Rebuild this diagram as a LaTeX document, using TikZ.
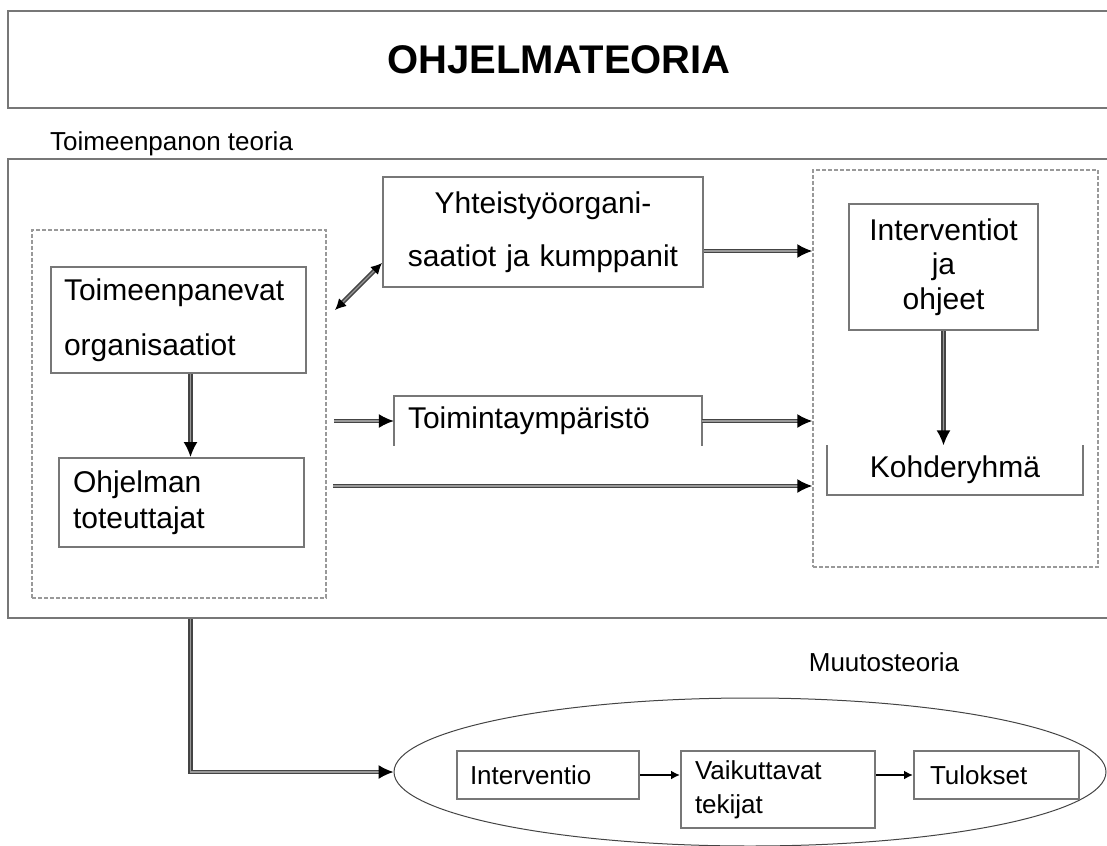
\documentclass[tikz,border=0pt]{standalone}
\usepackage{fontspec}
\setmainfont{Liberation Sans}
\usetikzlibrary{shapes.geometric,arrows.meta,positioning,calc}

\definecolor{boxgray}{HTML}{777777}
\definecolor{dashgray}{HTML}{999999}
\definecolor{linegray}{HTML}{444444}
\definecolor{midgray}{HTML}{999999}

\begin{document}
\begin{tikzpicture}[x=1pt, y=-1pt,
			box/.style={rectangle, draw=boxgray, line width=2pt, inner xsep=13pt,
				inner ysep=0pt, align=left, font=\fontsize{30}{36}\selectfont},
			smallbox/.style={box, font=\fontsize{26}{34}\selectfont, minimum height=48pt},
			openbox/.style={rectangle, inner xsep=14pt, inner ysep=0pt, align=left,
				font=\fontsize{30}{36}\selectfont},
			dbox/.style={rectangle, draw=dashgray, line width=1.5pt,
				dash pattern=on 4pt off 2pt},
			dline/.style={draw=linegray, double=midgray, line width=1.6pt,
				double distance=1.3pt, arrows={-Latex[black, length=15pt, width=14pt]}},
			sline/.style={draw=black, line width=1.8pt,
				arrows={-Latex[black, length=9pt, width=9pt]}}]
			
			\useasboundingbox (0,0) rectangle (1107,845);
			
			% Title
			\node[draw=boxgray, line width=2pt, minimum width=1102pt, minimum height=97pt,
				font=\fontsize{40}{48}\selectfont\bfseries] (title) at (559,59.5) {OHJELMATEORIA};
			
			% Implementation theory
			\node[anchor=west, inner sep=0pt, font=\fontsize{26}{30}\selectfont]
				(impllabel) at (50,143.5) {Toimeenpanon teoria};
			\node[draw=boxgray, line width=2pt, minimum width=1102pt, minimum height=459pt]
				(impl) at (559,388.5) {};
			\node[dbox, minimum width=294pt, minimum height=368pt] (leftgrp) at (179,414) {};
			\node[dbox, minimum width=285pt, minimum height=397pt] (rightgrp) at (955.5,368.5) {};
			
			\node[box, text width=229pt, minimum height=106pt, font=\fontsize{30}{55}\selectfont]
				(org) at (178.5,320) {Toimeenpanevat\\organisaatiot};
			\node[box, inner xsep=14pt, text width=217pt, minimum height=89pt]
				(exec) at (181.5,502.5) {Ohjelman\\toteuttajat};
			\node[box, align=center, text width=294pt, minimum height=110pt,
				font=\fontsize{30}{53}\selectfont] (coop) at (543,232) {Yhteistyöorgani-\\saatiot ja kumppanit};
			\node[box, align=center, text width=163pt, minimum height=126pt,
				font=\fontsize{30}{34.5}\selectfont] (intv) at (943.5,267) {Interventiot\\ja\\ohjeet};
			\node[openbox, text width=280pt, minimum height=49pt] (env) at (548,421) {Toimintaympäristö};
			\draw[boxgray, line width=2pt] (env.south west) -- (env.north west)
				-- (env.north east) -- (env.south east);
			\node[openbox, align=center, text width=228pt, minimum height=49pt]
				(target) at (955,470) {Kohderyhmä};
			\draw[boxgray, line width=2pt] (target.north west) -- (target.south west)
				-- (target.south east) -- (target.north east);
			
			% Connections
			\coordinate (c1) at (335,310);
			\coordinate (c2) at (333,486);
			\draw[dline] ([xshift=12pt]org.south) -- ([xshift=12pt]org.south |- exec.north);
			\draw[dline, arrows={Latex[black, length=11pt, width=11pt]-Latex[black, length=11pt, width=11pt]}]
				(c1) -- ([yshift=-31pt]coop.west);
			\draw[dline] ([yshift=-19pt]coop.east) -- ([yshift=-19pt]coop.east -| rightgrp.west);
			\draw[dline, shorten <=7pt] (leftgrp.east |- env.center) -- (env.west);
			\draw[dline] (env.east) -- (env.east -| rightgrp.west);
			\draw[dline] (c2) -- (c2 -| rightgrp.west);
			\draw[dline] (intv.south) -- (intv.south |- target.north);
			
			% Theory of change
			\node[font=\fontsize{26}{30}\selectfont] (changelabel) at (884,662) {Muutosteoria};
			\node[ellipse, draw=linegray, line width=1pt, minimum width=712pt, minimum height=148pt]
				(change) at (750,772) {};
			\node[smallbox, text width=156pt] (iv) at (548,775) {Interventio};
			\node[smallbox, inner xsep=14pt, text width=166pt, minimum height=77pt]
				(vt) at (778,789.5) {Vaikuttavat\\tekijat};
			\node[smallbox, inner xsep=16pt, text width=133pt] (tu) at (996.5,775) {Tulokset};
			\draw[sline] (iv.east) -- (iv.east -| vt.west);
			\draw[sline] (vt.east |- tu.east) -- (tu.west);
			
			\draw[dline] ([xshift=12pt]org.south |- impl.south) |- (change.west);
		\end{tikzpicture}
\end{document}
